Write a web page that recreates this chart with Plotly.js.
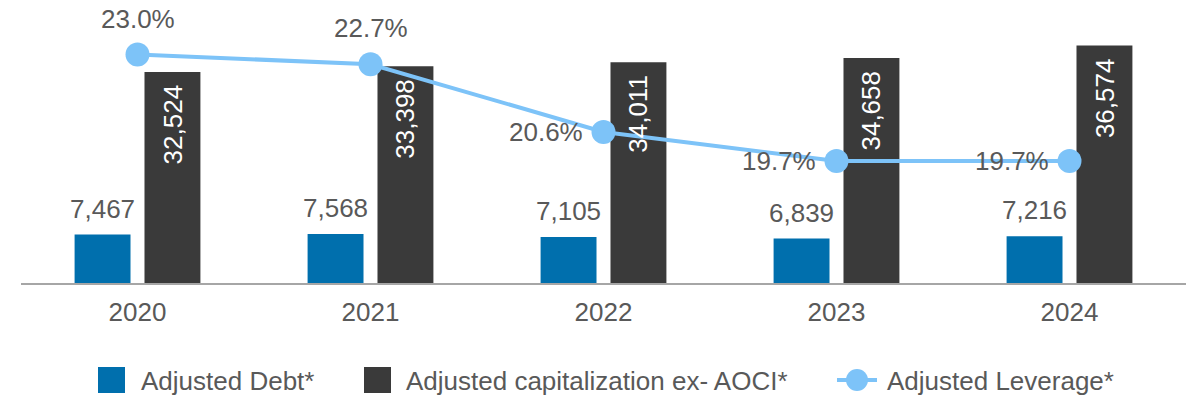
<!DOCTYPE html>
<html><head><meta charset="utf-8">
<script src="https://cdn.plot.ly/plotly-3.0.1.min.js"></script>
<style>html,body{margin:0;padding:0;background:#fff}</style>
</head><body><div id="chart" style="width:1186px;height:400px"></div>
<script>
const years = ['2020', '2021', '2022', '2023', '2024'];
const adjustedDebt = [7467, 7568, 7105, 6839, 7216];
const adjustedCap = [32524, 33398, 34011, 34658, 36574];
const adjustedLeverage = [23.0, 22.7, 20.6, 19.7, 19.7];
const seriesNames = ['Adjusted Debt*', 'Adjusted capitalization ex- AOCI*', 'Adjusted Leverage*'];

const W = 1186, H = 400, ML = 21, MR = 0, MT = 0, MB = 117;
const PW = W - ML - MR, PH = H - MT - MB;
const px = x => (x - ML) / PW;
const py = y => (H - MB - y) / PH;

const FONT = 'Liberation Sans, Arial, sans-serif';
const GREY = '#595959';
const BLUE = '#006FAD';
const DARK = '#3A3A3A';
const LIGHT = '#7DC3F8';
const fmt = n => n.toLocaleString('en-US');
const pct = v => v.toFixed(1) + '%';

const traces = [
  {type: 'bar', name: seriesNames[0], x: years, y: adjustedDebt, marker: {color: BLUE}, hoverinfo: 'skip'},
  {type: 'bar', name: seriesNames[1], x: years, y: adjustedCap, marker: {color: DARK}, hoverinfo: 'skip'},
  {type: 'scatter', name: seriesNames[2], x: years, y: adjustedLeverage, yaxis: 'y2', mode: 'lines+markers',
   line: {color: LIGHT, width: 4}, marker: {color: LIGHT, size: 24}, hoverinfo: 'skip'}
];

const ann = [];
years.forEach((yr, i) => {
  // category index i corresponds to years[i]
  ann.push({x: i, y: adjustedDebt[i], xref: 'x', yref: 'y', text: fmt(adjustedDebt[i]), showarrow: false,
    xshift: -35, yshift: 26, xanchor: 'center', yanchor: 'middle', font: {family: FONT, size: 26, color: GREY}});
  ann.push({x: i, y: adjustedCap[i], xref: 'x', yref: 'y', text: fmt(adjustedCap[i]), showarrow: false,
    xshift: 35, yshift: -11, xanchor: 'center', yanchor: 'top', textangle: -90, font: {family: FONT, size: 26, color: '#FFFFFF'}});
  const top = i < 2;
  ann.push({x: i, y: adjustedLeverage[i], xref: 'x', yref: 'y2', text: pct(adjustedLeverage[i]), showarrow: false,
    xshift: top ? 0 : -19, yshift: top ? 36 : 0, xanchor: top ? 'center' : 'right', yanchor: 'middle',
    font: {family: FONT, size: 26, color: GREY}});
});

// manual legend
const legendText = [140, 405, 886];
seriesNames.forEach((nm, i) => {
  ann.push({x: px(legendText[i]), y: py(381), xref: 'paper', yref: 'paper', text: nm, showarrow: false,
    xanchor: 'left', yanchor: 'middle', borderpad: 0, font: {family: FONT, size: 26, color: GREY}});
});
const shapes = [
  {type: 'rect', xref: 'paper', yref: 'paper', x0: px(98), x1: px(125), y0: py(393), y1: py(367), fillcolor: BLUE, line: {width: 0}},
  {type: 'rect', xref: 'paper', yref: 'paper', x0: px(364), x1: px(391), y0: py(393), y1: py(367), fillcolor: DARK, line: {width: 0}},
  {type: 'line', xref: 'paper', yref: 'paper', x0: px(837), x1: px(877), y0: py(380), y1: py(380), line: {color: LIGHT, width: 4}},
  {type: 'circle', xref: 'paper', yref: 'paper', x0: px(846), x1: px(868), y0: py(391), y1: py(369), fillcolor: LIGHT, line: {width: 0}}
];

const layout = {
  width: W, height: H,
  margin: {l: ML, r: MR, t: MT, b: MB, pad: 0},
  paper_bgcolor: '#FFFFFF', plot_bgcolor: '#FFFFFF',
  barmode: 'group', bargap: 0.4, bargroupgap: 0.2,
  showlegend: false,
  font: {family: FONT, size: 26, color: GREY},
  xaxis: {type: 'category', range: [-0.5, 4.5], autorange: false, showline: true, linecolor: '#A6A6A6', linewidth: 2, ticks: '', showgrid: false,
    zeroline: false, tickfont: {family: FONT, size: 26, color: GREY}, ticklabelstandoff: 5, fixedrange: true},
  yaxis: {range: [0, 43600], autorange: false, visible: false, showgrid: false, zeroline: false, fixedrange: true},
  yaxis2: {range: [15.92, 24.69], autorange: false, overlaying: 'y', side: 'right', visible: false, showgrid: false, zeroline: false, fixedrange: true},
  annotations: ann,
  shapes: shapes
};

Plotly.newPlot('chart', traces, layout, {displayModeBar: false, staticPlot: true});
</script>
</body></html>
